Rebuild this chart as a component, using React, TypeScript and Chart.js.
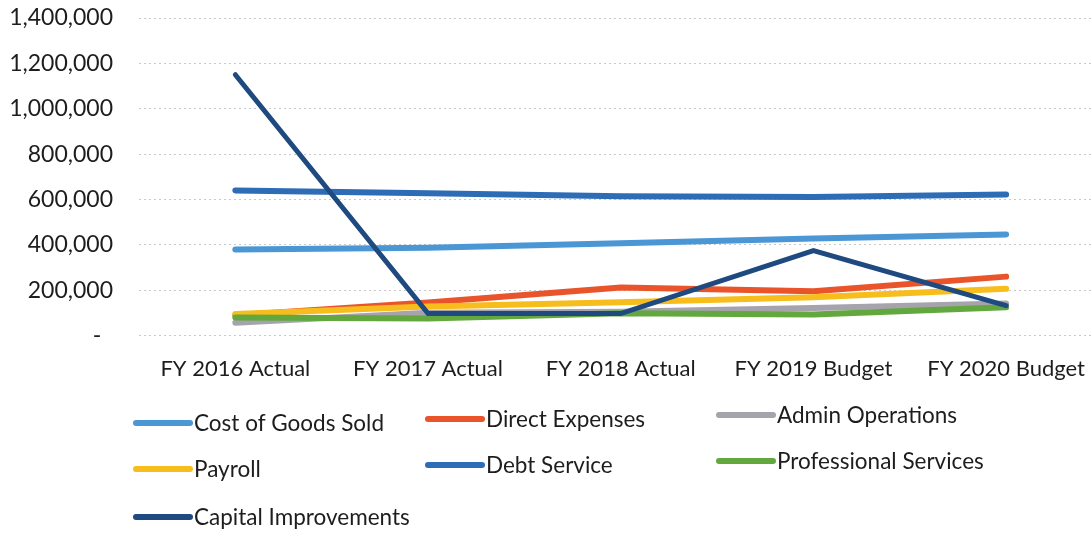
import React, { useEffect, useRef } from "react";
import { Chart, registerables } from "chart.js";

Chart.register(...registerables);

const categories = ["FY 2016 Actual", "FY 2017 Actual", "FY 2018 Actual", "FY 2019 Budget", "FY 2020 Budget"];
const seriesNames = [
  "Cost of Goods Sold",
  "Direct Expenses",
  "Admin Operations",
  "Payroll",
  "Debt Service",
  "Professional Services",
  "Capital Improvements",
];
const costOfGoodsSold = [380000, 387000, 407000, 428000, 446000];
const directExpenses = [90000, 146000, 212000, 196000, 260000];
const adminOperations = [57000, 101000, 105000, 122000, 141000];
const payroll = [95000, 128000, 147000, 169000, 206000];
const debtService = [640000, 627000, 614000, 611000, 622000];
const professionalServices = [80000, 75000, 98000, 93000, 125000];
const capitalImprovements = [1150000, 97000, 97000, 375000, 132000];
const yTicks = [0, 200000, 400000, 600000, 800000, 1000000, 1200000, 1400000];

const seriesValues = [
  costOfGoodsSold,
  directExpenses,
  adminOperations,
  payroll,
  debtService,
  professionalServices,
  capitalImprovements,
];
const seriesColors = ["#4b97d6", "#e9542b", "#a6a3ad", "#f7bd1c", "#2e6cb6", "#62a83f", "#1f4a80"];
const seriesWidths = [6, 6, 6, 6, 6, 6, 5];

const FONT = "Lato, 'Open Sans', sans-serif";

const legendPlugin = {
  id: "gridLegend",
  afterDraw(chart: any) {
    const ctx = chart.ctx;
    const cols = [133, 425, 716];
    const rows = [423, 469, 517];
    ctx.save();
    chart.data.datasets.forEach((ds: any, i: number) => {
      const c = i % 3;
      const r = Math.floor(i / 3);
      const x = cols[c];
      const y = rows[r] - c * 4;
      ctx.strokeStyle = ds.borderColor;
      ctx.lineWidth = 6;
      ctx.lineCap = "round";
      ctx.beginPath();
      ctx.moveTo(x + 3, y);
      ctx.lineTo(x + 57, y);
      ctx.stroke();
      ctx.fillStyle = "#1d1d1d";
      ctx.font = `22.5px ${FONT}`;
      ctx.textBaseline = "middle";
      ctx.textAlign = "left";
      ctx.fillText(ds.label, x + 61, y + 1);
    });
    ctx.restore();
  },
};

export default function App() {
  const canvasRef = useRef<HTMLCanvasElement | null>(null);

  useEffect(() => {
    document.body.style.margin = "0";
    const canvas = canvasRef.current;
    if (!canvas) return;
    const chart = new Chart(canvas, {
      type: "line",
      data: {
        labels: categories,
        datasets: seriesNames.map((name, i) => ({
          label: name,
          data: seriesValues[i],
          borderColor: seriesColors[i],
          backgroundColor: seriesColors[i],
          borderWidth: seriesWidths[i],
          pointRadius: 0,
          pointHoverRadius: 0,
          tension: 0,
          fill: false,
          order: seriesNames.length - i,
          borderCapStyle: "round",
          borderJoinStyle: "miter",
        })),
      },
      options: {
        animation: false,
        responsive: false,
        maintainAspectRatio: false,
        events: [],
        layout: { padding: { left: 0, right: 0, top: 0, bottom: 132 } },
        plugins: {
          legend: { display: false },
          tooltip: { enabled: false },
          title: { display: false },
        },
        scales: {
          x: {
            type: "category",
            offset: true,
            grid: { display: false, drawTicks: false },
            border: { display: false },
            ticks: {
              color: "#1d1d1d",
              font: { family: FONT, size: 22 },
              padding: 20,
              maxRotation: 0,
              autoSkip: false,
            },
          },
          y: {
            min: 0,
            max: 1400000,
            afterBuildTicks: (axis: any) => {
              axis.ticks = yTicks.map((v) => ({ value: v }));
            },
            afterFit: (axis: any) => {
              axis.width = 139;
              axis.paddingTop = 18;
            },
            grid: {
              color: "#c9c9c9",
              lineWidth: 1,
              drawTicks: false,
            },
            border: { display: false, dash: [2, 3] },
            ticks: {
              color: "#1d1d1d",
              font: { family: FONT, size: 23 },
              padding: 26,
              callback: (v: any) => (Number(v) === 0 ? "-  " : Number(v).toLocaleString("en-US")),
            },
          },
        },
      },
      plugins: [legendPlugin],
    });
    return () => chart.destroy();
  }, []);

  return (
    <div style={{ position: "absolute", left: 0, top: 0, width: 1092, height: 534, overflow: "hidden", background: "#fff" }}>
      <canvas ref={canvasRef} width={1105} height={534} style={{ width: 1105, height: 534, display: "block" }} />
    </div>
  );
}
